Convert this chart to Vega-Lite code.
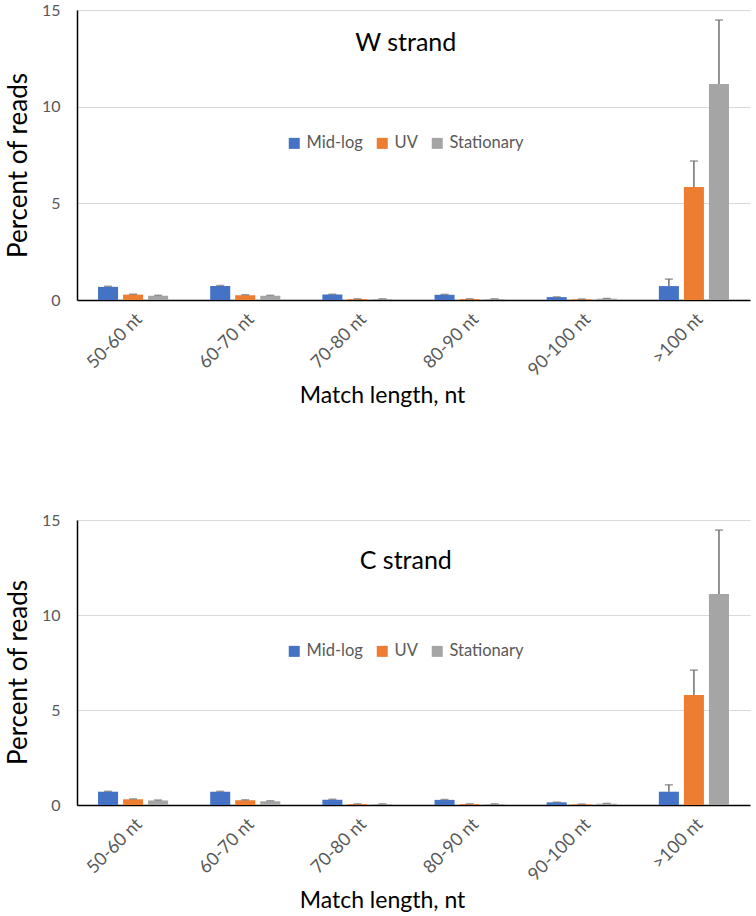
{
  "$schema": "https://vega.github.io/schema/vega-lite/v6.json",
  "padding": {"left": 5, "top": 2, "right": 5, "bottom": 5},
  "background": "white",
  "config": {
    "font": "Lato",
    "view": {"stroke": null},
    "axis": {"titleFontWeight": "normal"}
  },
  "datasets": {
    "bars": [
      {"strand": "W", "length": "50-60 nt", "condition": "Mid-log", "value": 0.68, "upper": 0.71},
      {"strand": "W", "length": "60-70 nt", "condition": "Mid-log", "value": 0.72, "upper": 0.75},
      {"strand": "W", "length": "70-80 nt", "condition": "Mid-log", "value": 0.28, "upper": 0.3},
      {"strand": "W", "length": "80-90 nt", "condition": "Mid-log", "value": 0.27, "upper": 0.29},
      {"strand": "W", "length": "90-100 nt", "condition": "Mid-log", "value": 0.15, "upper": 0.16},
      {"strand": "W", "length": ">100 nt", "condition": "Mid-log", "value": 0.72, "upper": 1.08},
      {"strand": "W", "length": "50-60 nt", "condition": "UV", "value": 0.28, "upper": 0.3},
      {"strand": "W", "length": "60-70 nt", "condition": "UV", "value": 0.25, "upper": 0.27},
      {"strand": "W", "length": "70-80 nt", "condition": "UV", "value": 0.05, "upper": 0.06},
      {"strand": "W", "length": "80-90 nt", "condition": "UV", "value": 0.05, "upper": 0.06},
      {"strand": "W", "length": "90-100 nt", "condition": "UV", "value": 0.04, "upper": 0.05},
      {"strand": "W", "length": ">100 nt", "condition": "UV", "value": 5.84, "upper": 7.19},
      {"strand": "W", "length": "50-60 nt", "condition": "Stationary", "value": 0.22, "upper": 0.24},
      {"strand": "W", "length": "60-70 nt", "condition": "Stationary", "value": 0.22, "upper": 0.24},
      {"strand": "W", "length": "70-80 nt", "condition": "Stationary", "value": 0.05, "upper": 0.06},
      {"strand": "W", "length": "80-90 nt", "condition": "Stationary", "value": 0.05, "upper": 0.06},
      {"strand": "W", "length": "90-100 nt", "condition": "Stationary", "value": 0.07, "upper": 0.08},
      {"strand": "W", "length": ">100 nt", "condition": "Stationary", "value": 11.17, "upper": 14.48},
      {"strand": "C", "length": "50-60 nt", "condition": "Mid-log", "value": 0.7, "upper": 0.72},
      {"strand": "C", "length": "60-70 nt", "condition": "Mid-log", "value": 0.7, "upper": 0.72},
      {"strand": "C", "length": "70-80 nt", "condition": "Mid-log", "value": 0.28, "upper": 0.3},
      {"strand": "C", "length": "80-90 nt", "condition": "Mid-log", "value": 0.27, "upper": 0.29},
      {"strand": "C", "length": "90-100 nt", "condition": "Mid-log", "value": 0.14, "upper": 0.15},
      {"strand": "C", "length": ">100 nt", "condition": "Mid-log", "value": 0.7, "upper": 1.06},
      {"strand": "C", "length": "50-60 nt", "condition": "UV", "value": 0.3, "upper": 0.32},
      {"strand": "C", "length": "60-70 nt", "condition": "UV", "value": 0.25, "upper": 0.27},
      {"strand": "C", "length": "70-80 nt", "condition": "UV", "value": 0.05, "upper": 0.06},
      {"strand": "C", "length": "80-90 nt", "condition": "UV", "value": 0.05, "upper": 0.06},
      {"strand": "C", "length": "90-100 nt", "condition": "UV", "value": 0.04, "upper": 0.05},
      {"strand": "C", "length": ">100 nt", "condition": "UV", "value": 5.79, "upper": 7.1},
      {"strand": "C", "length": "50-60 nt", "condition": "Stationary", "value": 0.24, "upper": 0.26},
      {"strand": "C", "length": "60-70 nt", "condition": "Stationary", "value": 0.2, "upper": 0.22},
      {"strand": "C", "length": "70-80 nt", "condition": "Stationary", "value": 0.05, "upper": 0.06},
      {"strand": "C", "length": "80-90 nt", "condition": "Stationary", "value": 0.05, "upper": 0.06},
      {"strand": "C", "length": "90-100 nt", "condition": "Stationary", "value": 0.07, "upper": 0.08},
      {"strand": "C", "length": ">100 nt", "condition": "Stationary", "value": 11.1, "upper": 14.47}
    ],
    "titles": [
      {"strand": "W", "label": "W strand", "y": 13.3},
      {"strand": "C", "label": "C strand", "y": 12.85}
    ]
  },
  "spacing": 104,
  "resolve": {"scale": {"color": "independent"}, "legend": {"color": "independent"}},
  "vconcat": [
    {
      "width": 673,
      "height": 290,
      "layer": [
        {
          "data": {"name": "bars"},
          "transform": [{"filter": "datum.strand == 'W'"}],
          "mark": {"type": "bar"},
          "encoding": {
            "x": {"field": "length", "type": "nominal", "sort": ["50-60 nt", "60-70 nt", "70-80 nt", "80-90 nt", "90-100 nt", ">100 nt"],
              "scale": {"paddingInner": 0.375, "paddingOuter": 0.1875},
              "axis": {"title": "Match length, nt", "titleFontSize": 23, "titleColor": "#000000", "titlePadding": 5, "titleX": 305, "labelAngle": -45, "labelFontSize": 18, "labelColor": "#595959", "labelPadding": 10, "ticks": false, "domainColor": "#000000", "domainWidth": 1.5}},
            "xOffset": {"field": "condition", "type": "nominal", "sort": ["Mid-log", "UV", "Stationary"], "scale": {"paddingInner": 0.2}},
            "y": {"field": "value", "type": "quantitative", "scale": {"domain": [0, 15], "nice": false},
              "axis": {"title": "Percent of reads", "titleFontSize": 26, "titleColor": "#000000", "titlePadding": 10, "titleY": 155, "values": [0, 5, 10, 15], "labelFontSize": 16, "labelColor": "#595959", "labelPadding": 17, "ticks": false, "domainColor": "#000000", "domainWidth": 1.5, "gridColor": "#d9d9d9", "gridWidth": 1}},
            "color": {"field": "condition", "type": "nominal", "scale": {"domain": ["Mid-log", "UV", "Stationary"], "range": ["#4472C4", "#ED7D31", "#A5A5A5"]},
              "legend": {"orient": "none", "direction": "horizontal", "legendX": 209, "legendY": 125, "title": null, "symbolType": "square", "symbolSize": 121, "symbolStrokeWidth": 0, "labelFontSize": 16.5, "labelColor": "#595959", "columnPadding": 11, "labelOffset": 4}}
          }
        },
        {
          "data": {"name": "bars"},
          "transform": [{"filter": "datum.strand == 'W'"}],
          "mark": {"type": "rule", "color": "#707070", "strokeWidth": 1.5},
          "encoding": {
            "x": {"field": "length", "type": "nominal", "sort": ["50-60 nt", "60-70 nt", "70-80 nt", "80-90 nt", "90-100 nt", ">100 nt"]},
            "xOffset": {"field": "condition", "type": "nominal", "sort": ["Mid-log", "UV", "Stationary"]},
            "y": {"field": "value", "type": "quantitative"},
            "y2": {"field": "upper"}
          }
        },
        {
          "data": {"name": "bars"},
          "transform": [{"filter": "datum.strand == 'W'"}],
          "mark": {"type": "tick", "color": "#707070", "size": 8, "thickness": 1.5},
          "encoding": {
            "x": {"field": "length", "type": "nominal", "sort": ["50-60 nt", "60-70 nt", "70-80 nt", "80-90 nt", "90-100 nt", ">100 nt"]},
            "xOffset": {"field": "condition", "type": "nominal", "sort": ["Mid-log", "UV", "Stationary"]},
            "y": {"field": "upper", "type": "quantitative"}
          }
        },
        {
          "data": {"name": "titles"},
          "transform": [{"filter": "datum.strand == 'W'"}],
          "mark": {"type": "text", "fontSize": 25, "color": "#000000", "baseline": "middle"},
          "encoding": {
            "x": {"datum": "70-80 nt", "bandPosition": 1.19},
            "y": {"field": "y", "type": "quantitative"},
            "text": {"field": "label"}
          }
        }
      ]
    },
    {
      "width": 673,
      "height": 285,
      "layer": [
        {
          "data": {"name": "bars"},
          "transform": [{"filter": "datum.strand == 'C'"}],
          "mark": {"type": "bar"},
          "encoding": {
            "x": {"field": "length", "type": "nominal", "sort": ["50-60 nt", "60-70 nt", "70-80 nt", "80-90 nt", "90-100 nt", ">100 nt"],
              "scale": {"paddingInner": 0.375, "paddingOuter": 0.1875},
              "axis": {"title": "Match length, nt", "titleFontSize": 23, "titleColor": "#000000", "titlePadding": 5, "titleX": 305, "labelAngle": -45, "labelFontSize": 18, "labelColor": "#595959", "labelPadding": 10, "ticks": false, "domainColor": "#000000", "domainWidth": 1.5}},
            "xOffset": {"field": "condition", "type": "nominal", "sort": ["Mid-log", "UV", "Stationary"], "scale": {"paddingInner": 0.2}},
            "y": {"field": "value", "type": "quantitative", "scale": {"domain": [0, 15], "nice": false},
              "axis": {"title": "Percent of reads", "titleFontSize": 26, "titleColor": "#000000", "titlePadding": 10, "titleY": 152, "values": [0, 5, 10, 15], "labelFontSize": 16, "labelColor": "#595959", "labelPadding": 17, "ticks": false, "domainColor": "#000000", "domainWidth": 1.5, "gridColor": "#d9d9d9", "gridWidth": 1}},
            "color": {"field": "condition", "type": "nominal", "scale": {"domain": ["Mid-log", "UV", "Stationary"], "range": ["#4472C4", "#ED7D31", "#A5A5A5"]},
              "legend": {"orient": "none", "direction": "horizontal", "legendX": 209, "legendY": 123, "title": null, "symbolType": "square", "symbolSize": 121, "symbolStrokeWidth": 0, "labelFontSize": 16.5, "labelColor": "#595959", "columnPadding": 11, "labelOffset": 4}}
          }
        },
        {
          "data": {"name": "bars"},
          "transform": [{"filter": "datum.strand == 'C'"}],
          "mark": {"type": "rule", "color": "#707070", "strokeWidth": 1.5},
          "encoding": {
            "x": {"field": "length", "type": "nominal", "sort": ["50-60 nt", "60-70 nt", "70-80 nt", "80-90 nt", "90-100 nt", ">100 nt"]},
            "xOffset": {"field": "condition", "type": "nominal", "sort": ["Mid-log", "UV", "Stationary"]},
            "y": {"field": "value", "type": "quantitative"},
            "y2": {"field": "upper"}
          }
        },
        {
          "data": {"name": "bars"},
          "transform": [{"filter": "datum.strand == 'C'"}],
          "mark": {"type": "tick", "color": "#707070", "size": 8, "thickness": 1.5},
          "encoding": {
            "x": {"field": "length", "type": "nominal", "sort": ["50-60 nt", "60-70 nt", "70-80 nt", "80-90 nt", "90-100 nt", ">100 nt"]},
            "xOffset": {"field": "condition", "type": "nominal", "sort": ["Mid-log", "UV", "Stationary"]},
            "y": {"field": "upper", "type": "quantitative"}
          }
        },
        {
          "data": {"name": "titles"},
          "transform": [{"filter": "datum.strand == 'C'"}],
          "mark": {"type": "text", "fontSize": 25, "color": "#000000", "baseline": "middle"},
          "encoding": {
            "x": {"datum": "70-80 nt", "bandPosition": 1.19},
            "y": {"field": "y", "type": "quantitative"},
            "text": {"field": "label"}
          }
        }
      ]
    }
  ]
}
